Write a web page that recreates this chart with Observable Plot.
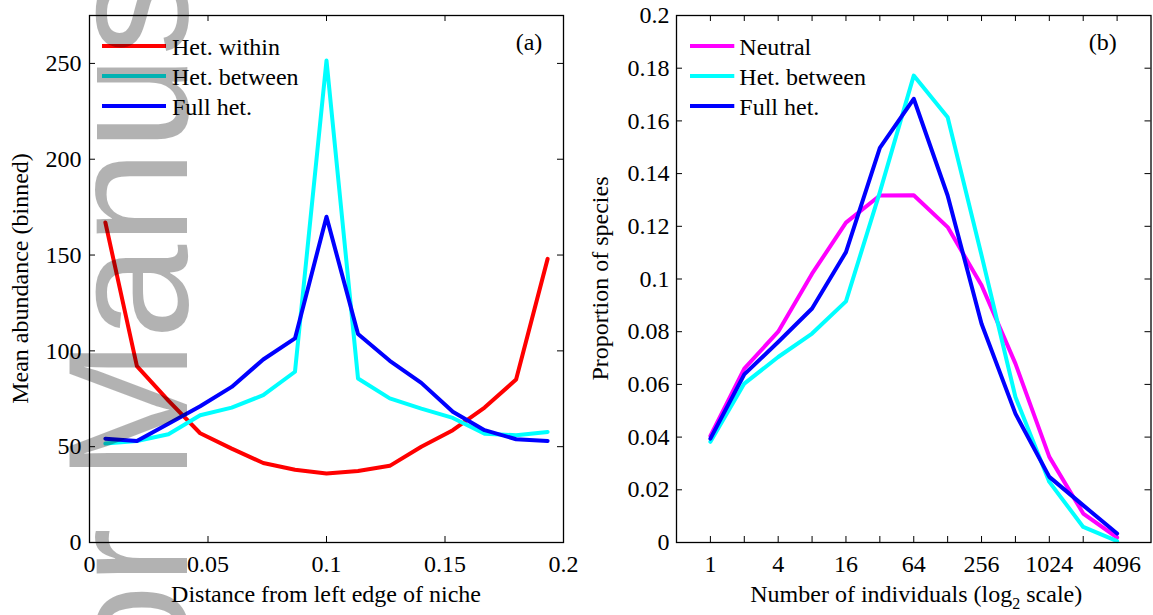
<!DOCTYPE html>
<html><head><meta charset="utf-8">
<script src="https://cdn.jsdelivr.net/npm/d3@7"></script>
<script src="https://cdn.jsdelivr.net/npm/@observablehq/plot@0.6"></script>
<style>
body{margin:0;background:#fff;}
#wrap{position:relative;width:1153px;height:615px;overflow:hidden;background:#fff;}
#wrap svg{position:absolute;top:0;max-width:none;}
</style></head><body><div id="wrap"></div>
<script>
// ---------- Panel (a) data ----------
const leftX = [0.0067, 0.02, 0.0333, 0.0467, 0.06, 0.0733, 0.0867, 0.1, 0.1133, 0.1267, 0.14, 0.1533, 0.1667, 0.18, 0.1933];
const hetWithinA  = [167, 92, 74, 57, 49, 41.5, 38, 36, 37.3, 40, 50, 58.6, 70.4, 85, 148];
const hetBetweenA = [51.6, 53, 56.5, 66.4, 70.4, 76.9, 89.1, 251.5, 85.6, 75.2, 69.9, 65, 56.8, 56, 57.7];
const fullHetA    = [54.2, 53, 62, 71.1, 81.2, 95.5, 106.5, 170, 108.8, 94.8, 83.3, 68.2, 58.6, 53.9, 53];
const leftXTicks = [0, 0.05, 0.1, 0.15, 0.2];
const leftXTickLabels = ["0", "0.05", "0.1", "0.15", "0.2"];
const leftYTicks = [0, 50, 100, 150, 200, 250];
const leftYTickLabels = ["0", "50", "100", "150", "200", "250"];
const leftSeries = ["Het. within", "Het. between", "Full het."];
const leftColors = ["#ff0000", "#00ffff", "#0000ff"];

// ---------- Panel (b) data ----------
const rightX = [1, 2, 4, 8, 16, 32, 64, 128, 256, 512, 1024, 2048, 4096];
const neutralB    = [0.0405, 0.066, 0.080, 0.102, 0.1214, 0.1317, 0.1318, 0.1197, 0.0976, 0.0679, 0.0325, 0.011, 0.0019];
const hetBetweenB = [0.0382, 0.0603, 0.0704, 0.0793, 0.0915, 0.133, 0.1772, 0.1614, 0.109, 0.0552, 0.023, 0.0059, 0.0005];
const fullHetB    = [0.0394, 0.0638, 0.0761, 0.0888, 0.1102, 0.1498, 0.1684, 0.1317, 0.083, 0.0489, 0.0249, 0.0141, 0.0034];
const rightXTickMarks = [1, 2, 4, 8, 16, 32, 64, 128, 256, 512, 1024, 2048, 4096];
const rightXTicks = [1, 4, 16, 64, 256, 1024, 4096];
const rightXTickLabels = ["1", "4", "16", "64", "256", "1024", "4096"];
const rightYTicks = [0, 0.02, 0.04, 0.06, 0.08, 0.1, 0.12, 0.14, 0.16, 0.18, 0.2];
const rightYTickLabels = ["0", "0.02", "0.04", "0.06", "0.08", "0.1", "0.12", "0.14", "0.16", "0.18", "0.2"];
const rightSeries = ["Neutral", "Het. between", "Full het."];
const rightColors = ["#ff00ff", "#00ffff", "#0000ff"];

const FONT = "'Liberation Serif','Times New Roman',serif";
const wrap = document.getElementById("wrap");
const LW = 4, TICK = 6;

function lookup(ticks, labels) { return d => labels[ticks.indexOf(d)]; }

function framedTicks(xTicks, yTicks, fw, fh) {
  return [
    Plot.tickX(xTicks, {insetTop: fh - TICK, stroke: "black"}),
    Plot.tickX(xTicks, {insetBottom: fh - TICK, stroke: "black"}),
    Plot.tickY(yTicks, {insetRight: fw - TICK, stroke: "black"}),
    Plot.tickY(yTicks, {insetLeft: fw - TICK, stroke: "black"})
  ];
}

function addLegend(svg, labels, colors, x1, x2, tx, y0) {
  const g = d3.select(svg).append("g");
  labels.forEach((lab, i) => {
    const y = y0 + i * 30;
    g.append("line").attr("x1", x1).attr("x2", x2).attr("y1", y).attr("y2", y)
      .attr("stroke", colors[i]).attr("stroke-width", LW);
    g.append("text").attr("x", tx).attr("y", y + 8.5).attr("text-anchor", "start")
      .attr("font-size", 24).attr("fill", "black").text(lab);
  });
}

// ---------- Left plot ----------
const L_W = 580, H = 615, L_ML = 89, L_MR = 17, MT = 15, MB = 73;
const LFW = L_W - L_ML - L_MR, FH = H - MT - MB;
const left = Plot.plot({
  width: L_W, height: H, marginLeft: L_ML, marginRight: L_MR, marginTop: MT, marginBottom: MB,
  style: {fontFamily: FONT, fontSize: "24px", background: "white", color: "black", overflow: "visible"},
  x: {domain: [0, 0.2]},
  y: {domain: [0, 275]},
  marks: [
    Plot.axisX(leftXTicks, {tickSize: 0, tickPadding: 12, tickFormat: lookup(leftXTicks, leftXTickLabels), label: null, fontSize: 24}),
    Plot.axisY(leftYTicks, {tickSize: 0, tickPadding: 8, tickFormat: lookup(leftYTicks, leftYTickLabels), label: null, fontSize: 24}),
    ...framedTicks(leftXTicks, leftYTicks, LFW, FH),
    Plot.lineY(hetWithinA,  {x: leftX, stroke: leftColors[0], strokeWidth: LW}),
    Plot.lineY(hetBetweenA, {x: leftX, stroke: leftColors[1], strokeWidth: LW}),
    Plot.lineY(fullHetA,    {x: leftX, stroke: leftColors[2], strokeWidth: LW}),
    Plot.frame({stroke: "black", strokeWidth: 1.3})
  ]
});
left.style.left = "0px";
wrap.appendChild(left);
{
  const s = d3.select(left);
  const xc = L_ML + LFW / 2, yc = MT + FH / 2;
  s.append("text").attr("x", xc).attr("y", 601.5).attr("text-anchor", "middle").attr("font-size", 24)
    .text("Distance from left edge of niche");
  s.append("text").attr("transform", `translate(27.5,${yc}) rotate(-90)`).attr("text-anchor", "middle").attr("font-size", 24)
    .text("Mean abundance (binned)");
  s.append("text").attr("x", L_W - L_MR - 34).attr("y", MT + 35).attr("text-anchor", "middle").attr("font-size", 24).text("(a)");
  addLegend(left, leftSeries, leftColors, L_ML + 13, L_ML + 77, L_ML + 83, MT + 31);
  // watermark overlay (cut off at the page edge, as in the reference)
  s.append("text").attr("transform", "translate(187,1029) rotate(-90)")
    .attr("text-anchor", "start").attr("font-family", "'Liberation Sans', Arial, sans-serif")
    .attr("font-size", 170).attr("fill", "black").attr("fill-opacity", 0.3)
    .text("Author Manuscript");
}

// ---------- Right plot ----------
const R_W = 573, R_ML = 96, R_MR = 2.5;
const RFW = R_W - R_ML - R_MR;
const right = Plot.plot({
  width: R_W, height: H, marginLeft: R_ML, marginRight: R_MR, marginTop: MT, marginBottom: MB,
  style: {fontFamily: FONT, fontSize: "24px", background: "white", color: "black", overflow: "visible"},
  x: {type: "log", base: 2, domain: [0.5, 8192]},
  y: {domain: [0, 0.2]},
  marks: [
    Plot.axisX(rightXTicks, {tickSize: 0, tickPadding: 12, tickFormat: lookup(rightXTicks, rightXTickLabels), label: null, fontSize: 24}),
    Plot.axisY(rightYTicks, {tickSize: 0, tickPadding: 7, tickFormat: lookup(rightYTicks, rightYTickLabels), label: null, fontSize: 24}),
    ...framedTicks(rightXTickMarks, rightYTicks, RFW, FH),
    Plot.lineY(neutralB,    {x: rightX, stroke: rightColors[0], strokeWidth: LW}),
    Plot.lineY(hetBetweenB, {x: rightX, stroke: rightColors[1], strokeWidth: LW}),
    Plot.lineY(fullHetB,    {x: rightX, stroke: rightColors[2], strokeWidth: LW}),
    Plot.frame({stroke: "black", strokeWidth: 1.3})
  ]
});
right.style.left = "580px";
wrap.appendChild(right);
{
  const s = d3.select(right);
  const xc = R_ML + RFW / 2, yc = MT + FH / 2;
  const t = s.append("text").attr("x", xc + 3).attr("y", 601.5).attr("text-anchor", "middle").attr("font-size", 24);
  t.append("tspan").text("Number of individuals (log");
  t.append("tspan").attr("font-size", 16).attr("dy", 7).text("2");
  t.append("tspan").attr("dy", -7).text(" scale)");
  s.append("text").attr("transform", `translate(28,${yc}) rotate(-90)`).attr("text-anchor", "middle").attr("font-size", 24)
    .text("Proportion of species");
  s.append("text").attr("x", R_W - R_MR - 47.7).attr("y", MT + 35).attr("text-anchor", "middle").attr("font-size", 24).text("(b)");
  addLegend(right, rightSeries, rightColors, 110, 154.3, 159.3, MT + 31);
}
</script></body></html>
